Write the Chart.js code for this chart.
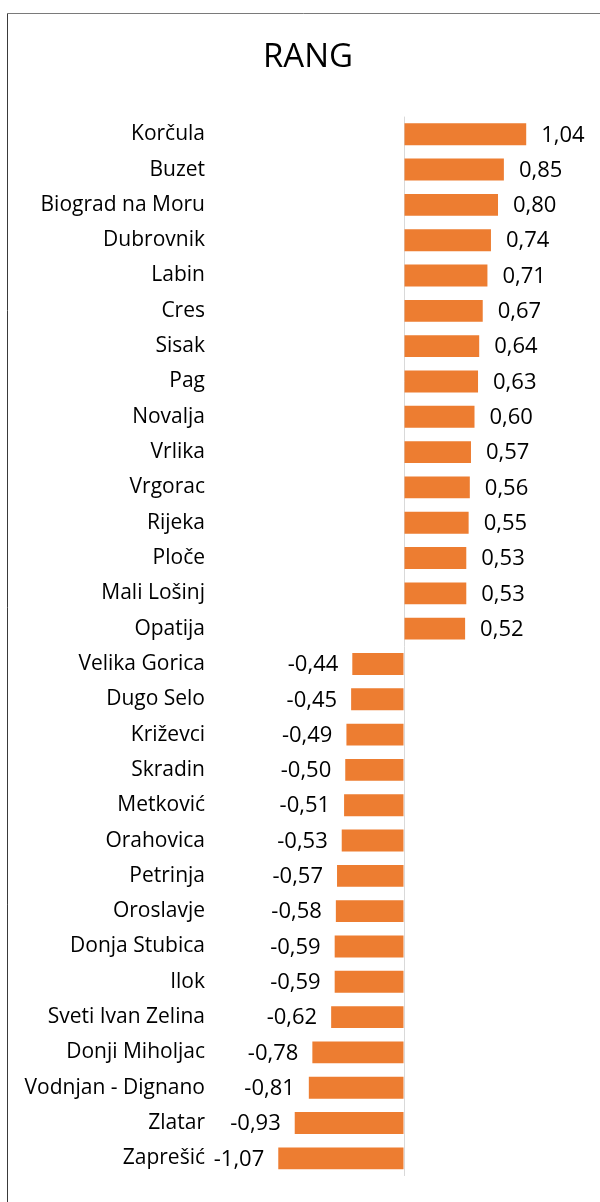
<!DOCTYPE html>
<html>
<head>
<meta charset="utf-8">
<script src="https://cdn.jsdelivr.net/npm/chart.js@4/dist/chart.umd.min.js"></script>
<style>
  html, body { margin: 0; padding: 0; background: #fff; }
  #wrap { width: 600px; height: 1202px; position: relative; }
</style>
</head>
<body>
<div id="wrap"><canvas id="rangChart"></canvas></div>
<script>
// Data
const cities = [
  'Korčula', 'Buzet', 'Biograd na Moru', 'Dubrovnik', 'Labin', 'Cres', 'Sisak', 'Pag',
  'Novalja', 'Vrlika', 'Vrgorac', 'Rijeka', 'Ploče', 'Mali Lošinj', 'Opatija',
  'Velika Gorica', 'Dugo Selo', 'Križevci', 'Skradin', 'Metković', 'Orahovica',
  'Petrinja', 'Oroslavje', 'Donja Stubica', 'Ilok', 'Sveti Ivan Zelina',
  'Donji Miholjac', 'Vodnjan - Dignano', 'Zlatar', 'Zaprešić'
];
const rang = [
  1.04, 0.85, 0.80, 0.74, 0.71, 0.67, 0.64, 0.63, 0.60, 0.57, 0.56, 0.55, 0.53, 0.53, 0.52,
  -0.44, -0.45, -0.49, -0.50, -0.51, -0.53, -0.57, -0.58, -0.59, -0.59, -0.62,
  -0.78, -0.81, -0.93, -1.07
];
const chartTitle = 'RANG';

const FONT = "'Open Sans', 'Noto Sans', sans-serif";

// frame around the chart (Excel chart border)
const framePlugin = {
  id: 'frame',
  beforeDraw(chart) {
    const c = chart.ctx;
    c.save();
    c.lineWidth = 1;
    c.strokeStyle = '#7a7a7a';
    c.beginPath();
    c.moveTo(7.5, 13.5);
    c.lineTo(600, 13.5);
    c.stroke();
    c.strokeStyle = '#3a3a3a';
    c.beginPath();
    c.moveTo(7.5, 13.5);
    c.lineTo(7.5, 1202);
    c.stroke();
    c.restore();
  }
};

// value labels at the bar ends, decimal comma
const valueLabels = {
  id: 'valueLabels',
  afterDatasetsDraw(chart) {
    const c = chart.ctx;
    const meta = chart.getDatasetMeta(0);
    c.save();
    c.font = '22px ' + FONT;
    c.fillStyle = '#000';
    c.textBaseline = 'middle';
    meta.data.forEach(function(bar, i) {
      const v = rang[i];
      const txt = v.toFixed(2).replace('.', ',');
      if (v >= 0) {
        c.textAlign = 'left';
        c.fillText(txt, bar.x + 15, bar.y + 1);
      } else {
        c.textAlign = 'right';
        c.fillText(txt, bar.x - 14, bar.y + 1);
      }
    });
    c.restore();
  }
};

new Chart(document.getElementById('rangChart'), {
  type: 'bar',
  data: {
    labels: cities,
    datasets: [{
      data: rang,
      backgroundColor: '#ED7D31',
      borderWidth: 0,
      barPercentage: 0.62,
      categoryPercentage: 1
    }]
  },
  options: {
    indexAxis: 'y',
    responsive: true,
    maintainAspectRatio: false,
    animation: false,
    layout: { padding: { left: 16, right: 0, top: 0, bottom: 26 } },
    plugins: {
      legend: { display: false },
      tooltip: { enabled: false },
      title: {
        display: true,
        text: chartTitle,
        color: '#000',
        font: { family: FONT, size: 33, weight: 'normal' },
        padding: { top: 38, bottom: 39 }
      }
    },
    scales: {
      x: {
        min: -1.6,
        max: 1.668,
        afterBuildTicks: function(s) { s.ticks = [{ value: 0 }]; },
        afterFit: function(s) { s.height = 0; },
        ticks: { display: false },
        grid: { color: '#d9d9d9', lineWidth: 1, drawTicks: false },
        border: { display: false }
      },
      y: {
        afterFit: function(s) { s.width = 200; },
        ticks: {
          color: '#000',
          padding: 11,
          autoSkip: false,
          font: { family: FONT, size: 21 }
        },
        grid: { display: false, drawTicks: false },
        border: { display: false }
      }
    }
  },
  plugins: [framePlugin, valueLabels]
});
</script>
</body>
</html>
